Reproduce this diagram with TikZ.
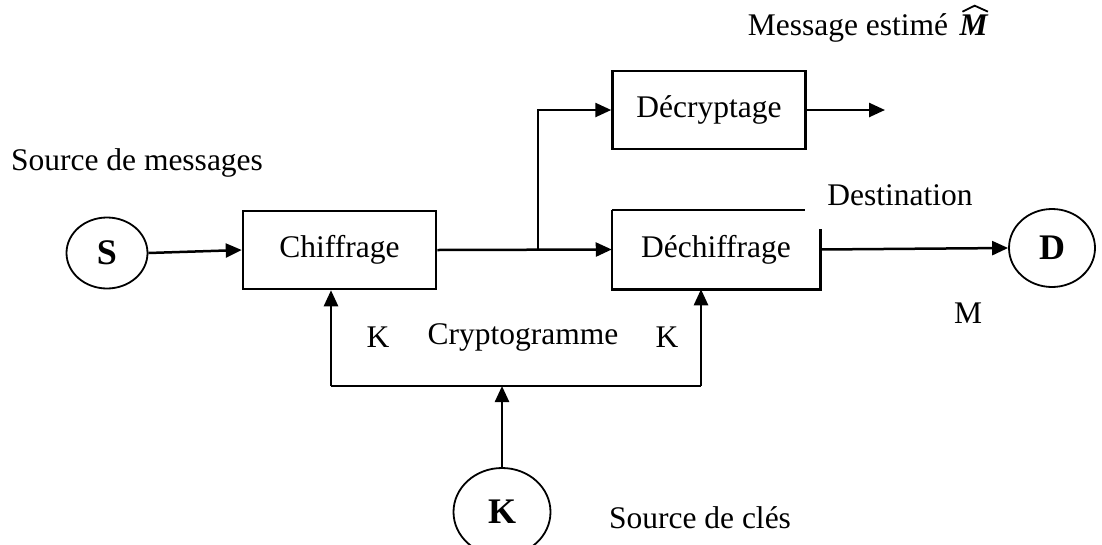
\documentclass[tikz,border=0pt]{standalone}
\usepackage{fontspec}
\setmainfont{Liberation Serif}
\usetikzlibrary{arrows.meta,calc,shapes.geometric}
\begin{document}
\begin{tikzpicture}[x=1pt,y=-1pt,
  font=\fontsize{31.5}{36}\selectfont,
  line width=2.5pt,
  >={Triangle[length=16pt,width=14pt]},
  blk/.style={draw,minimum width=193pt,minimum height=78pt,inner sep=0pt},
  src/.style={draw,ellipse,line width=1.8pt,inner sep=0pt,font=\fontsize{36}{40}\selectfont\bfseries},
  lbl/.style={inner sep=0pt}]
\useasboundingbox (0,0) rectangle (1102,544);
\clip (0,0) rectangle (1102,544);

% sources and destination
\node[src,minimum width=81pt,minimum height=71pt] (S) at (107,253) {S};
\node[src,minimum width=86pt,minimum height=78pt] (D) at (1052,248) {D};
\node[src,minimum width=97pt,minimum height=88pt] (K) at (502,512) {K};

% processing blocks
\node[blk] (chif) at (339.5,250) {Chiffrage};
\node[blk] (decr) at (709,110) {Décryptage};
\node[blk,draw=none,minimum width=206pt,minimum height=77pt] (dech) at (716,249.5) {Déchiffrage};
\draw (dech.north west) -- ([xshift=-15pt]dech.north east)
      (dech.north west) -- (dech.south west) -- (dech.south east)
      -- ([yshift=60pt]dech.south east);

% branching point and free ends
\coordinate (br) at (538,0);
\coordinate (out) at (885,0);
\coordinate (kl) at (331,386);
\coordinate (kr) at (701,386);

% message path
\draw[->] (S.east) -- (chif.west);
\draw[->] (chif.east) -- (dech.west);
\draw[->] (br |- chif.east) -- (br |- decr.west) -- (decr.west);
\draw[->] (decr.east) -- (out |- decr.east);
\draw[->] (dech.east) -- (D.west);

% key distribution
\draw[->] (kl) -- (kl |- chif.south);
\draw[->] (kr) -- (kr |- dech.south);
\draw (kl) -- (kr);
\draw[->] (K.north) -- (K.north |- kl);

% labels
\node[lbl] (lsm) at (137,163) {Source de messages};
\node[lbl] (lme) at (848,28) {Message estimé};
\node[lbl,anchor=base west] (mm) at ([xshift=9pt]lme.base east) {\bfseries\itshape M};
\draw[line width=1.8pt,line join=miter]
  ($(mm.north west)+(4,-2)$) -- ($(mm.north)+(1,-8)$) -- ($(mm.north east)+(-1,-2)$);
\node[lbl] (ldest) at (900,195) {Destination};
\node[lbl] (lm) at (968,313) {M};
\node[lbl] (lk1) at (378,337) {K};
\node[lbl] (lcr) at (523,337) {Cryptogramme};
\node[lbl] (lk2) at (667,337) {K};
\node[lbl] (lsc) at (700,518) {Source de clés};
\end{tikzpicture}
\end{document}
